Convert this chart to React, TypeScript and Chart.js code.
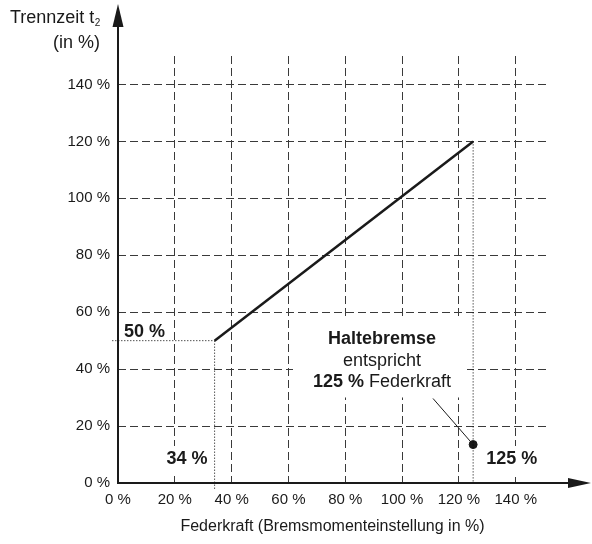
import React, { useEffect, useRef } from "react";
import { Chart, registerables } from "chart.js";

Chart.register(...registerables);

const FONT = "'Liberation Sans', Arial, Helvetica, sans-serif";
const INK = "#1a1a1a";
const GRID = "#3a3a3a";

// Axis ranges (in %)
const xMax = 151;
const yMax = 150;
const xTickStep = 20;
const yTickStep = 20;

// Characteristic: Federkraft (%) -> Trennzeit t2 (%)
const federkraft = [34, 125];
const trennzeit = [50, 120];

// Haltebremse marker
const haltebremseX = 125;
const haltebremseY = 13.5;

// Guide-line overshoot beyond axes
const guideOvershoot = -2;

// Texts
const xAxisTitle = "Federkraft (Bremsmomenteinstellung in %)";
const yAxisTitle1 = "Trennzeit t";
const yAxisTitleSub = "2";
const yAxisTitle2 = "(in %)";
const minTimeLabel = "50 %";
const minForceLabel = "34 %";
const holdForceLabel = "125 %";
const noteTitle = "Haltebremse";
const noteLine2 = "entspricht";
const noteLine3Bold = "125 %";
const noteLine3 = " Federkraft";

const pct = (v: number) => `${v} %`;

const decor = {
  id: "decor",
  beforeDatasetsDraw(chart: any) {
    const { ctx, chartArea, scales } = chart;
    const x = scales.x;
    const y = scales.y;
    const L = chartArea.left;
    ctx.save();
    ctx.fillStyle = "#ffffff";
    const y0 = y.getPixelForValue(0);
    const yMin = y.getPixelForValue(trennzeit[0]);
    const xMinF = x.getPixelForValue(federkraft[0]);
    const xHold = x.getPixelForValue(haltebremseX);
    ctx.fillRect(L + 2, yMin - 22, 52, 20);
    ctx.fillRect(xMinF - 54, y0 - 37, 50, 30);
    ctx.fillRect(xHold + 9, y0 - 37, 58, 31);
    ctx.fillRect(L + 175, y.getPixelForValue(58.5), 174, 81);
    ctx.restore();
  },
  afterDatasetsDraw(chart: any) {
    const { ctx, chartArea, scales } = chart;
    const x = scales.x;
    const y = scales.y;
    const L = chartArea.left;
    const y0 = y.getPixelForValue(0);
    const yMin = y.getPixelForValue(trennzeit[0]);
    const xMinF = x.getPixelForValue(federkraft[0]);
    const xHold = x.getPixelForValue(haltebremseX);
    ctx.save();
    ctx.fillStyle = INK;
    ctx.textBaseline = "alphabetic";
    ctx.font = `bold 18px ${FONT}`;
    ctx.textAlign = "left";
    ctx.fillText(minTimeLabel, L + 6, yMin - 4);
    ctx.textAlign = "right";
    ctx.fillText(minForceLabel, xMinF - 7, y0 - 19);
    ctx.textAlign = "left";
    ctx.fillText(holdForceLabel, xHold + 13, y0 - 19);

    const cx = L + 264;
    const nTop = y.getPixelForValue(58.5);
    ctx.textAlign = "center";
    ctx.font = `bold 18px ${FONT}`;
    ctx.fillText(noteTitle, cx, nTop + 28);
    ctx.font = `18px ${FONT}`;
    ctx.fillText(noteLine2, cx, nTop + 49.5);
    ctx.font = `bold 18px ${FONT}`;
    const wb = ctx.measureText(noteLine3Bold).width;
    ctx.font = `18px ${FONT}`;
    const wr = ctx.measureText(noteLine3).width;
    const sx = cx - (wb + wr) / 2;
    ctx.textAlign = "left";
    ctx.font = `bold 18px ${FONT}`;
    ctx.fillText(noteLine3Bold, sx, nTop + 71);
    ctx.font = `18px ${FONT}`;
    ctx.fillText(noteLine3, sx + wb, nTop + 71);

    ctx.strokeStyle = INK;
    ctx.lineWidth = 1;
    ctx.beginPath();
    ctx.moveTo(cx + 51, nTop + 82);
    ctx.lineTo(xHold, y.getPixelForValue(haltebremseY));
    ctx.stroke();
    ctx.restore();
  },
  afterDraw(chart: any) {
    const { ctx, chartArea } = chart;
    const L = chartArea.left;
    const B = chartArea.bottom;
    ctx.save();
    ctx.strokeStyle = INK;
    ctx.fillStyle = INK;
    ctx.lineWidth = 2;
    ctx.beginPath();
    ctx.moveTo(L, B + 1);
    ctx.lineTo(L, 24);
    ctx.stroke();
    ctx.beginPath();
    ctx.moveTo(L, 4);
    ctx.lineTo(L - 5.5, 27);
    ctx.lineTo(L + 5.5, 27);
    ctx.closePath();
    ctx.fill();
    ctx.beginPath();
    ctx.moveTo(L - 1, B);
    ctx.lineTo(572, B);
    ctx.stroke();
    ctx.beginPath();
    ctx.moveTo(591, B);
    ctx.lineTo(568, B - 5);
    ctx.lineTo(568, B + 5);
    ctx.closePath();
    ctx.fill();

    ctx.font = `18px ${FONT}`;
    ctx.textBaseline = "alphabetic";
    ctx.textAlign = "left";
    ctx.fillText(yAxisTitle1, 10, 23);
    const w = ctx.measureText(yAxisTitle1).width;
    ctx.font = `10px ${FONT}`;
    ctx.fillText(yAxisTitleSub, 10 + w + 0.5, 26);
    ctx.font = `18px ${FONT}`;
    ctx.textAlign = "right";
    ctx.fillText(yAxisTitle2, 100, 48);
    ctx.restore();
  },
};

export default function App() {
  const ref = useRef<HTMLCanvasElement | null>(null);

  useEffect(() => {
    if (!ref.current) return;
    const gridColor = (c: any) => (c.tick && c.tick.value === 0 ? "rgba(0,0,0,0)" : GRID);
    const dotted = {
      borderColor: "#000",
      borderWidth: 1,
      borderDash: [1, 2],
      pointRadius: 0,
      showLine: true,
      clip: false,
    };
    const chart = new Chart(ref.current, {
      type: "scatter",
      data: {
        datasets: [
          {
            data: federkraft.map((v, i) => ({ x: v, y: trennzeit[i] })),
            borderColor: INK,
            borderWidth: 2.5,
            pointRadius: 0,
            showLine: true,
          },
          {
            ...dotted,
            data: [
              { x: guideOvershoot, y: trennzeit[0] },
              { x: federkraft[0], y: trennzeit[0] },
            ],
          },
          {
            ...dotted,
            data: [
              { x: federkraft[0], y: trennzeit[0] },
              { x: federkraft[0], y: guideOvershoot },
            ],
          },
          {
            ...dotted,
            data: [
              { x: federkraft[1], y: trennzeit[1] },
              { x: federkraft[1], y: 0 },
            ],
          },
          {
            data: [{ x: haltebremseX, y: haltebremseY }],
            pointRadius: 4,
            pointBackgroundColor: INK,
            pointBorderColor: INK,
            showLine: false,
          },
        ],
      } as any,
      options: {
        responsive: false,
        animation: false,
        events: [],
        layout: { padding: { left: 0, right: 45, top: 56, bottom: 0 } },
        plugins: { legend: { display: false }, tooltip: { enabled: false } },
        scales: {
          x: {
            type: "linear",
            min: 0,
            max: xMax,
            border: { display: false, dash: [8, 4] },
            grid: { drawTicks: false, color: gridColor, lineWidth: 1 },
            ticks: {
              stepSize: xTickStep,
              includeBounds: false,
              padding: 8,
              color: INK,
              font: { family: FONT, size: 15 },
              callback: (v: any) => pct(v),
              maxRotation: 0,
            },
            title: {
              display: true,
              text: xAxisTitle,
              color: INK,
              font: { family: FONT, size: 16 },
              padding: { top: 0, bottom: 8 },
            },
            afterFit: (s: any) => {
              s.height = 61;
            },
          },
          y: {
            type: "linear",
            min: 0,
            max: yMax,
            border: { display: false, dash: [8, 4] },
            grid: { drawTicks: false, color: gridColor, lineWidth: 1 },
            ticks: {
              stepSize: yTickStep,
              includeBounds: false,
              padding: 8,
              color: INK,
              font: { family: FONT, size: 15 },
              callback: (v: any) => pct(v),
            },
            afterFit: (s: any) => {
              s.width = 118;
            },
          },
        },
      } as any,
      plugins: [decor],
    });
    return () => chart.destroy();
  }, []);

  return (
    <div style={{ position: "fixed", left: 0, top: 0, width: 592, height: 544, background: "#fff" }}>
      <canvas ref={ref} width={592} height={544} />
    </div>
  );
}
